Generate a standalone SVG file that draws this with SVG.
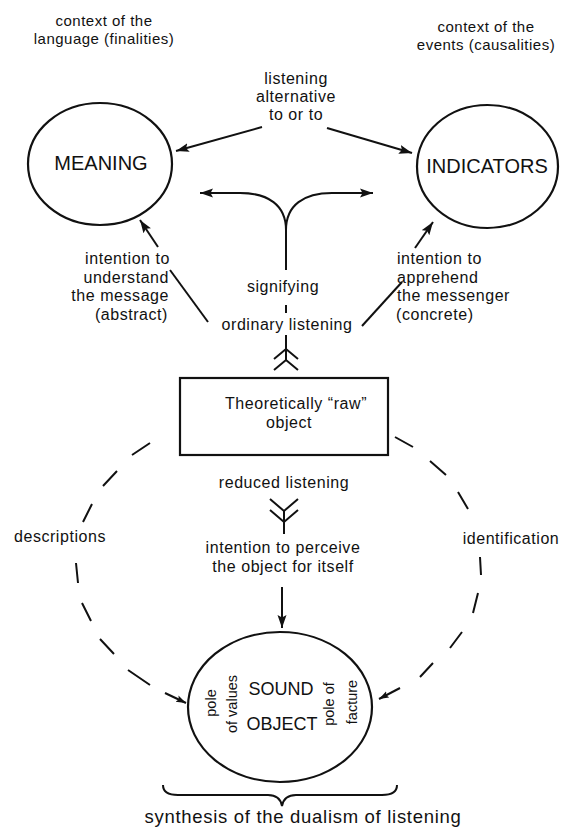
<svg xmlns="http://www.w3.org/2000/svg" width="563" height="832" viewBox="0 0 563 832">
<style>
  text { font-family: "Liberation Sans", Arial, Helvetica, sans-serif; fill: #111; }
  .t { font-size: 16px; letter-spacing: 0.55px; }
  .ctx { font-size: 15px; letter-spacing: 0.5px; text-anchor: middle; }
  .big { font-size: 20px; text-anchor: middle; }
  .so { font-size: 18px; text-anchor: middle; }
  .rot { font-size: 14.5px; text-anchor: middle; }
  .mid { text-anchor: middle; }
  .end { text-anchor: end; }
  .node { fill: none; stroke: #111; stroke-width: 2.2; }
  .ln { fill: none; stroke: #111; stroke-width: 2; }
  .dash { fill: none; stroke: #111; stroke-width: 2; stroke-linecap: butt; }
</style>
<defs>
  <marker id="ah" markerUnits="userSpaceOnUse" markerWidth="14" markerHeight="11" refX="13" refY="5" orient="auto">
    <path d="M0,0.5 L13,5 L0,9.5 L2.5,5 Z" fill="#111"/>
  </marker>
  <marker id="ahs" markerUnits="userSpaceOnUse" markerWidth="11" markerHeight="9" refX="10" refY="4" orient="auto">
    <path d="M0,0.5 L10,4 L0,7.5 L2,4 Z" fill="#111"/>
  </marker>
</defs>
<rect x="0" y="0" width="563" height="832" fill="#fff"/>

<g id="context-language">
  <text class="ctx" x="104" y="26">context of the</text>
  <text class="ctx" x="104" y="44">language (finalities)</text>
</g>
<g id="context-events">
  <text class="ctx" x="486" y="32">context of the</text>
  <text class="ctx" x="486" y="50">events (causalities)</text>
</g>

<g id="meaning">
  <ellipse class="node" cx="100" cy="164" rx="72" ry="61"/>
  <text class="big" x="101" y="170">MEANING</text>
</g>
<g id="indicators">
  <ellipse class="node" cx="487.5" cy="166.5" rx="70.5" ry="61.5"/>
  <text class="big" x="487" y="173">INDICATORS</text>
</g>

<g id="raw-object">
  <rect class="node" x="180" y="378" width="208" height="77"/>
  <text class="t mid" x="296" y="409">Theoretically “raw”</text>
  <text class="t mid" x="289" y="428">object</text>
</g>

<g id="sound-object">
  <ellipse class="node" cx="280" cy="707" rx="92" ry="75"/>
  <text class="so" x="281" y="695">SOUND</text>
  <text class="so" x="282" y="730">OBJECT</text>
  <text class="rot" transform="translate(216,703) rotate(-90)">pole</text>
  <text class="rot" transform="translate(237,704) rotate(-90)">of values</text>
  <text class="rot" transform="translate(334,704) rotate(-90)">pole of</text>
  <text class="rot" transform="translate(357,702) rotate(-90)">facture</text>
</g>

<g id="labels">
  <g id="label-alternative">
    <text class="t mid" x="296" y="84">listening</text>
    <text class="t mid" x="296" y="102">alternative</text>
    <text class="t mid" x="296" y="120">to or to</text>
  </g>
  <g id="label-understand">
    <text class="t end" x="170" y="264">intention to</text>
    <text class="t end" x="169" y="282.5">understand</text>
    <text class="t end" x="169" y="301">the message</text>
    <text class="t end" x="168" y="319.5">(abstract)</text>
  </g>
  <g id="label-apprehend">
    <text class="t" x="397" y="264">intention to</text>
    <text class="t" x="397" y="282.5">apprehend</text>
    <text class="t" x="397" y="301">the messenger</text>
    <text class="t" x="396" y="319.5">(concrete)</text>
  </g>
  <text id="label-signifying" class="t mid" x="283" y="292">signifying</text>
  <text id="label-ordinary" class="t mid" x="287" y="330">ordinary listening</text>
  <text id="label-reduced" class="t mid" x="284" y="488">reduced listening</text>
  <g id="label-perceive">
    <text class="t mid" x="283" y="553">intention to perceive</text>
    <text class="t mid" x="283" y="572">the object for itself</text>
  </g>
  <text id="label-descriptions" class="t mid" x="60" y="542">descriptions</text>
  <text id="label-identification" class="t mid" x="511" y="544">identification</text>
  <text id="label-synthesis" x="303" y="823" style="font-size:18.5px;letter-spacing:0.7px;text-anchor:middle">synthesis of the dualism of listening</text>
</g>

<g id="connectors">
  <path class="ln" d="M262,127 L176,151" marker-end="url(#ah)"/>
  <path class="ln" d="M327,128 L412,153" marker-end="url(#ah)"/>
  <path class="ln" d="M286,270 L286,230 C286,205 268,193 240,193 L200,193" marker-end="url(#ah)"/>
  <path class="ln" d="M286,230 C286,205 304,193 332,193 L373,193" marker-end="url(#ah)"/>
  <path class="ln" d="M286,305 L286,313"/>
  <path class="ln" d="M286,335 L286,360 M274,359 L286,349 L298,359 M274,370 L286,360 L298,370"/>
  <path class="ln" d="M208,322 L170,270"/>
  <path class="ln" d="M158,247 L140,220" marker-end="url(#ah)"/>
  <path class="ln" d="M362,326 L402,282"/>
  <path class="ln" d="M415,248 L433,222" marker-end="url(#ah)"/>
  <path class="ln" d="M270,499 L284,511 L298,499 M270,510 L284,522 L298,510 M284,511 L284,534"/>
  <path class="ln" d="M282,587 L282,628" marker-end="url(#ah)"/>
  <path class="dash" d="M150,443 L132,455 M117,471 L103,486 M92,504 L83,522 M76,563 L78,583 M82,603 L91,621 M100,639 L114,654 M128,670 L150,685"/>
  <path class="ln" d="M165,693 L186,703" marker-end="url(#ahs)"/>
  <path class="dash" d="M395,437 L413,447 M430,461 L446,475 M458,492 L468,509 M480,557 L481,575 M478,593 L473,613 M462,632 L450,648 M433,663 L420,677"/>
  <path class="ln" d="M400,688 L379,699" marker-end="url(#ahs)"/>
  <path class="ln" d="M163,785 Q163,795 178,795 L268,795 Q280,795 282,806 Q284,795 296,795 L382,795 Q397,795 397,785"/>
</g>
</svg>
